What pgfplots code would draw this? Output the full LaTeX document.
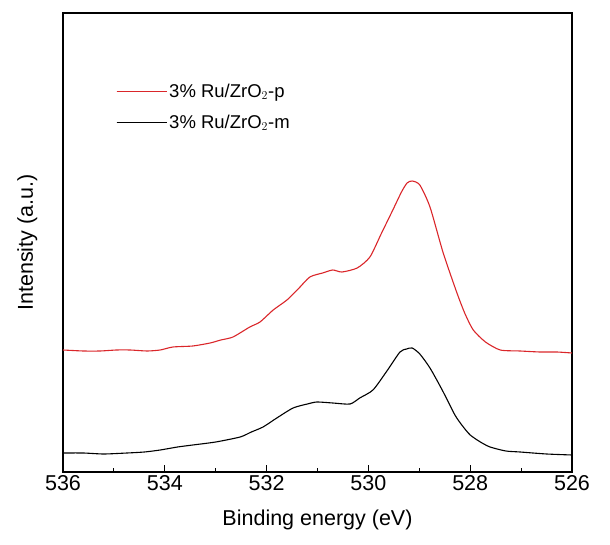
\documentclass[border=0pt]{standalone}
\usepackage{pgfplots}
\pgfplotsset{compat=1.18}
\usepackage{fontspec}
\setmainfont{Liberation Sans}
\definecolor{xpsred}{RGB}{218,38,42}
\begin{document}
\begin{tikzpicture}
\begin{axis}[
    scale only axis,
    width=509pt, height=459pt,
    x dir=reverse,
    xmin=526, xmax=536,
    ymin=0, ymax=459,
    xtick={526,528,...,536},
    minor xtick={527,529,...,535},
    ytick=\empty,
    xtick pos=bottom,
    tick align=inside,
    major tick length=7pt,
    minor tick length=4pt,
    every tick/.style={black, line width=0.9pt},
    axis line style={line width=1.1pt},
    /pgf/number format/assume math mode=true,
    /pgf/number format/1000 sep={},
    tick label style={font=\fontsize{21.5}{25}\selectfont},
    label style={font=\fontsize{21.5}{25}\selectfont},
    xlabel={Binding energy (eV)},
    ylabel={Intensity (a.u.)},
    xlabel style={yshift=-12pt},
    ylabel style={yshift=22pt},
    legend style={at={(0.098,0.855)}, anchor=north west, draw=none, fill=none,
        font=\fontsize{18.5}{22}\selectfont, row sep=12pt},
    legend cell align=left,
    legend image code/.code={\path (0pt,0pt) -- (50pt,0pt);
        \draw[#1, line width=1.2pt] (0pt,0pt) -- (46pt,0pt);},
]
\addplot[xpsred, line width=1.1pt, smooth, tension=0.4] coordinates {
(536.00,122)(535.60,121)(535.27,121)(534.95,122)(534.68,122)(534.35,121)(534.09,122)
(533.84,125)(533.45,126)(533.11,129)(532.90,132)(532.66,135)(532.33,145)(532.13,150)
(531.87,162)(531.60,172)(531.38,183)(531.15,195)(530.90,199)(530.70,202)(530.52,200)
(530.22,204)(529.97,215)(529.75,238)(529.52,262)(529.35,280)(529.24,289)(529.14,291)
(528.99,287)(528.79,265)(528.53,219)(528.26,179)(528.10,158)(527.94,142)(527.70,130)
(527.41,122)(527.02,121)(526.63,120)(526.30,120)(526.00,119)
};
\addlegendentry{3\% Ru/ZrO$_2$-p}
\addplot[black, line width=1.1pt, smooth, tension=0.4] coordinates {
(536.00,19)(535.60,19)(535.20,18)(534.74,19)(534.40,20)(534.09,22)(533.75,25)
(533.45,27)(533.00,30)(532.52,35)(532.30,40)(532.07,45)(531.80,54)(531.48,64)
(531.20,68)(531.01,70)(530.70,69)(530.36,68)(530.17,74)(529.91,82)(529.65,100)
(529.38,120)(529.25,123)(529.14,124)(528.99,118)(528.79,104)(528.55,82)(528.30,57)
(528.15,46)(528.00,37)(527.80,30)(527.61,25)(527.30,21)(527.02,20)(526.50,18)(526.00,17)
};
\addlegendentry{3\% Ru/ZrO$_2$-m}
\end{axis}
\path (current axis.south west) ++(-63pt,-73pt);
\path (current axis.north east) ++(38pt,13pt);
\end{tikzpicture}
\end{document}
